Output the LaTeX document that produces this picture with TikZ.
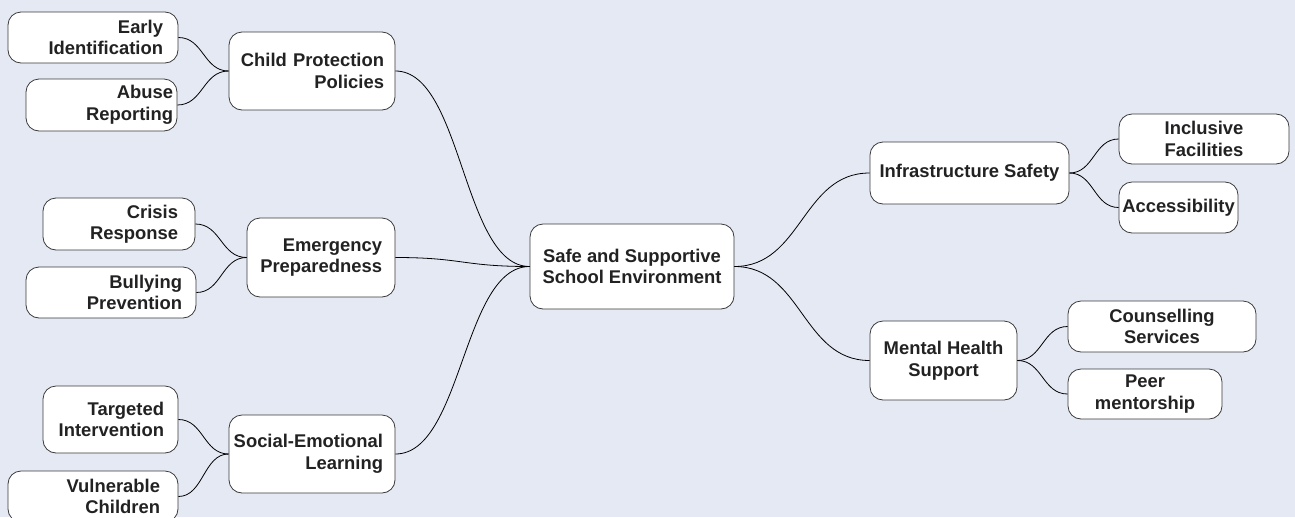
\documentclass[tikz,border=0pt]{standalone}
\usepackage{fontspec}
\setmainfont{Liberation Sans}
\usetikzlibrary{calc}
\definecolor{bgcol}{HTML}{E5E9F4}
\definecolor{ink}{HTML}{222222}
\definecolor{edgecol}{HTML}{3A3A3A}
\begin{document}
\begin{tikzpicture}[x=1pt,y=-1pt,
  box/.style={draw=edgecol, line width=0.8pt, fill=white, rounded corners=13pt,
    text=ink, font=\bfseries\fontsize{18.4}{21.5}\selectfont, inner ysep=0pt},
  leftbox/.style={box, align=right},
  rightbox/.style={box, align=center, inner xsep=0pt},
  link/.style={draw=black, line width=0.8pt,
    to path={let \p1=(\tikztostart), \p2=(\tikztotarget), \n1={0.5*(\x2-\x1)} in
      .. controls ($(\p1)+(\n1,0)$) and ($(\p2)-(\n1,0)$) .. (\p2)}}
]
% canvas
\fill[bgcol] (0,0) rectangle (1295,517);
\useasboundingbox (0,0) rectangle (1295,517);

% root
\node[rightbox, minimum width=204pt, minimum height=85pt] (root) at (632,266.5)
  {Safe and Supportive\\School Environment};

% left branches
\node[leftbox, text width=144pt, inner xsep=11pt, minimum height=78pt] (cpp) at (312,71)
  {Child Protection\\Policies};
\node[leftbox, text width=122pt, inner xsep=13pt, minimum height=79pt] (emerg) at (321,257.5)
  {Emergency\\Preparedness};
\node[leftbox, text width=142pt, inner xsep=12pt, minimum height=78pt] (sel) at (312,454)
  {\llap{Social-Emotional}\\Learning};

% left leaves
\node[leftbox, text width=140pt, inner xsep=15pt, minimum height=51pt] (early) at (93,37.5)
  {Early\\Identification};
\node[leftbox, text width=143pt, inner xsep=4pt, minimum height=52pt] (abuse) at (101.5,105)
  {Abuse\\Reporting};
\node[leftbox, text width=118pt, inner xsep=17pt, minimum height=52pt] (crisis) at (119,224)
  {Crisis\\Response};
\node[leftbox, text width=142pt, inner xsep=14pt, minimum height=51pt] (bully) at (111,292.5)
  {Bullying\\Prevention};
\node[leftbox, text width=107pt, inner xsep=14pt, minimum height=67pt] (target) at (110.5,419.5)
  {Targeted\\Intervention};
\node[leftbox, text width=134pt, inner xsep=18pt, minimum height=51pt] (vuln) at (93,496.5)
  {Vulnerable\\Children};

% right branches
\node[rightbox, minimum width=199pt, minimum height=62pt] (infra) at (969.5,173)
  {Infrastructure Safety};
\node[rightbox, minimum width=147pt, minimum height=79pt] (mental) at (943.5,360.5)
  {Mental Health\\Support};

% right leaves
\node[rightbox, minimum width=170pt, minimum height=50pt] (incl) at (1204,139)
  {Inclusive\\Facilities};
\node[rightbox, minimum width=119pt, minimum height=51pt] (access) at (1178.5,207.5)
  {Accessibility};
\node[rightbox, minimum width=188pt, minimum height=51pt] (couns) at (1162,326.5)
  {Counselling\\Services};
\node[rightbox, minimum width=154pt, minimum height=50pt] (peer) at (1145,394)
  {Peer\\mentorship};

% connectors
\draw[link] (early.east) to (cpp.west);
\draw[link] (abuse.east) to (cpp.west);
\draw[link] (crisis.east) to (emerg.west);
\draw[link] (bully.east) to (emerg.west);
\draw[link] (target.east) to (sel.west);
\draw[link] (vuln.east) to (sel.west);
\draw[link] (cpp.east) to (root.west);
\draw[link] (emerg.east) to (root.west);
\draw[link] (sel.east) to (root.west);
\draw[link] (root.east) to (infra.west);
\draw[link] (root.east) to (mental.west);
\draw[link] (infra.east) to (incl.west);
\draw[link] (infra.east) to (access.west);
\draw[link] (mental.east) to (couns.west);
\draw[link] (mental.east) to (peer.west);
\end{tikzpicture}
\end{document}
